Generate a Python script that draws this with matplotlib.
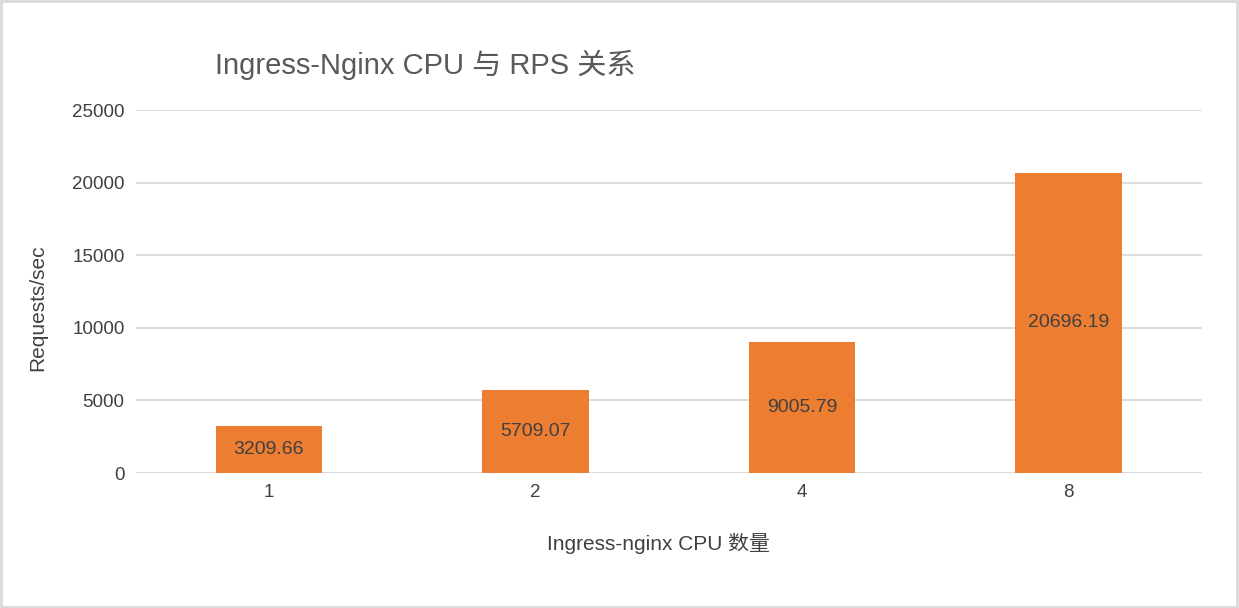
import matplotlib.pyplot as plt
from matplotlib.patches import Rectangle

# data
cpus = ['1', '2', '4', '8']
rps = [3209.66, 5709.07, 9005.79, 20696.19]
yticks = [0, 5000, 10000, 15000, 20000, 25000]

plt.rcParams['font.family'] = ['Liberation Sans', 'Noto Sans CJK SC', 'DejaVu Sans']

fig = plt.figure(figsize=(12.39, 6.08), dpi=100)
ax = fig.add_axes([0.1095, 0.222, 0.8604, 0.597])

x = range(len(cpus))
bars = ax.bar(x, rps, width=0.4, color='#ED7D31', zorder=3)

for b, v in zip(bars, rps):
    ax.text(b.get_x() + b.get_width() / 2, v / 2, '%.2f' % v,
            ha='center', va='center', fontsize=14, color='#404040', zorder=4)

ax.set_xlim(-0.5, 3.5)
ax.set_ylim(0, 25000)
ax.set_yticks(yticks)
ax.set_xticks(list(x))
ax.set_xticklabels(cpus)
ax.tick_params(axis='both', length=0, labelsize=13.5, labelcolor='#404040')
ax.tick_params(axis='y', pad=8)
ax.tick_params(axis='x', pad=8)
ax.grid(axis='y', color='#d9d9d9', linewidth=1.3, zorder=0)
for s in ax.spines.values():
    s.set_visible(False)

ax.set_ylabel('Requests/sec', fontsize=15, color='#404040')
ax.yaxis.set_label_coords(-0.083, 0.455)
ax.set_xlabel('Ingress-nginx CPU 数量', fontsize=15, color='#404040')
ax.xaxis.set_label_coords(0.49, -0.165)

fig.text(215 / 1239, 1 - 65 / 608, 'Ingress-Nginx CPU 与 RPS 关系',
         fontsize=21, color='#595959', ha='left', va='center')

fig.patches.append(Rectangle((0.001, 0.002), 0.997, 0.996, transform=fig.transFigure,
                             fill=False, edgecolor='#d9d9d9', linewidth=2))

fig.savefig('out.png', dpi=100)
